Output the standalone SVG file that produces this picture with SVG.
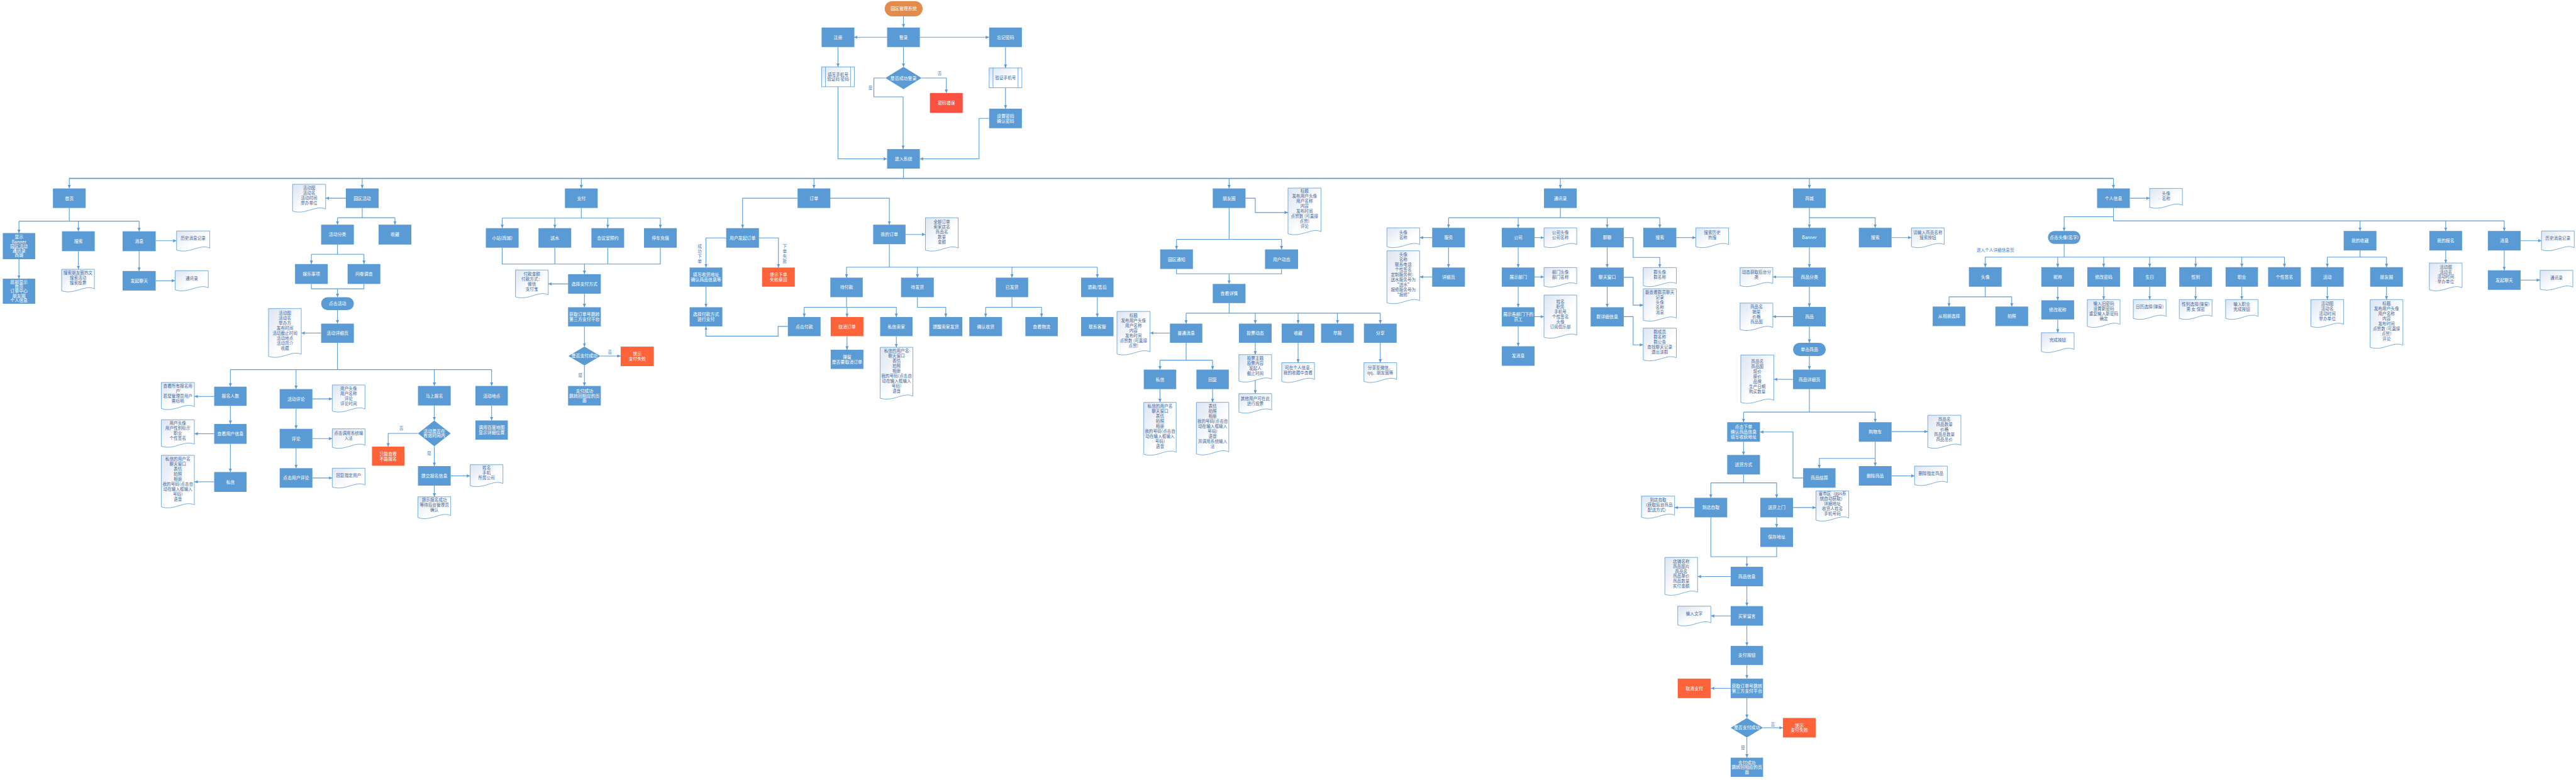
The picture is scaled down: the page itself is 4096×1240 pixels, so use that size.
<svg xmlns="http://www.w3.org/2000/svg" width="4096" height="1240" viewBox="0 0 4096 1240">
<style>
.n{fill:#5B9BD5}
.r{fill:#FF633A}
.e{fill:#F95040}
.o{fill:#E38B4B}
.d{fill:url(#dg);stroke:#5B9BD5;stroke-width:1.5}
.p{fill:url(#dg);stroke:#5B9BD5;stroke-width:1.5}
.t{font-family:'Noto Sans CJK SC',sans-serif;font-size:12.5px;fill:#fff;text-anchor:middle}
.dt{font-family:'Noto Sans CJK SC',sans-serif;font-size:12px;fill:#44679F;text-anchor:middle}
.lb{font-family:'Noto Sans CJK SC',sans-serif;font-size:12px;fill:#4A7AB8;text-anchor:middle}
.c{fill:none;stroke:#5B9BD5;stroke-width:2}
.b{fill:none;stroke:#5B9BD5;stroke-width:3}
.a{marker-end:url(#ar)}
</style>
<defs>
<linearGradient id="dg" x1="0" y1="0" x2="1" y2="1"><stop offset="0" stop-color="#dce5f2"/><stop offset="0.6" stop-color="#ffffff"/></linearGradient>
<marker id="ar" markerUnits="userSpaceOnUse" markerWidth="10" markerHeight="9" refX="10" refY="4.5" orient="auto"><path d="M0,0L10,4.5L0,9z" fill="#5B9BD5"/></marker>
</defs>
<rect width="4096" height="1240" fill="#fff"/>
<g transform="scale(0.55381)">
<g id="connectors">
<path class="c a" d="M2594,47V79"/>
<path class="c a" d="M2547,107H2452"/>
<path class="c a" d="M2641,107H2840"/>
<path class="c a" d="M2594,135V192"/>
<path class="c a" d="M2406,135V192"/>
<path class="c a" d="M2887,135V195"/>
<path class="c a" d="M2887,252V312"/>
<path class="c a" d="M2646,224H2717V267"/>
<path class="c a" d="M2542,224H2509V278H2593V428"/>
<path class="c a" d="M2406,249V456H2547"/>
<path class="c a" d="M2840,340H2811V456H2641"/>
<path class="c" d="M2594,484V512"/>
<path class="b" d="M198,512H6068"/>
<path class="c a" d="M199,512V541"/>
<path class="c a" d="M1040,512V541"/>
<path class="c a" d="M1669,512V541"/>
<path class="c a" d="M2337,512V541"/>
<path class="c a" d="M3529,512V541"/>
<path class="c a" d="M4480,512V541"/>
<path class="c a" d="M5195,512V541"/>
<path class="c a" d="M6068,512V541"/>
<path class="c" d="M199,597V635M54.5,635H399.5"/>
<path class="c a" d="M54.5,635V669"/>
<path class="c a" d="M225,635V664"/>
<path class="c a" d="M399.5,635V664"/>
<path class="c a" d="M54.5,744V800"/>
<path class="c a" d="M225,721V773"/>
<path class="c a" d="M447,691H507"/>
<path class="c a" d="M399.5,721V778"/>
<path class="c a" d="M447,806H503"/>
<path class="c a" d="M993,569H935"/>
<path class="c" d="M1040,597V625M969,625H1134"/>
<path class="c a" d="M969,625V645"/>
<path class="c a" d="M1134,625V645"/>
<path class="c" d="M969,702V730M894,730H1045"/>
<path class="c a" d="M894,730V758"/>
<path class="c a" d="M1045,730V758"/>
<path class="c" d="M894,815V829H1045V815"/>
<path class="c a" d="M969,829V853"/>
<path class="c a" d="M969,890V929"/>
<path class="c a" d="M922,956H865"/>
<path class="c" d="M969,984V1061M661.5,1061H1411.5"/>
<path class="c a" d="M661.5,1061V1110"/>
<path class="c a" d="M850,1061V1117"/>
<path class="c a" d="M1247,1061V1108"/>
<path class="c a" d="M1411.5,1061V1108"/>
<path class="c a" d="M615,1138H558"/>
<path class="c a" d="M661.5,1165V1217"/>
<path class="c a" d="M615,1245H558"/>
<path class="c a" d="M661.5,1274V1355"/>
<path class="c a" d="M615,1383H558"/>
<path class="c a" d="M897,1145H954"/>
<path class="c a" d="M850,1173V1231"/>
<path class="c a" d="M897,1259H954"/>
<path class="c a" d="M850,1287V1344"/>
<path class="c a" d="M897,1372H954"/>
<path class="c a" d="M1247,1164V1207"/>
<path class="c a" d="M1200,1244H1114.5V1282"/>
<path class="c a" d="M1247,1281V1338"/>
<path class="c a" d="M1294,1366H1350"/>
<path class="c a" d="M1247,1394V1426"/>
<path class="c a" d="M1411.5,1164V1207"/>
<path class="c" d="M1669,597V626M1442,626H1896"/>
<path class="c a" d="M1442,626V655"/>
<path class="c a" d="M1593,626V655"/>
<path class="c a" d="M1745,626V655"/>
<path class="c a" d="M1896,626V655"/>
<path class="c" d="M1442,711V758H1896V711M1593,711V758M1745,711V758"/>
<path class="c a" d="M1678,758V787"/>
<path class="c a" d="M1631,815H1574"/>
<path class="c a" d="M1678,843V882"/>
<path class="c a" d="M1678,937V995"/>
<path class="c a" d="M1724,1022H1782"/>
<path class="c a" d="M1678,1049V1108"/>
<path class="c a" d="M2290,569H2132V655"/>
<path class="c a" d="M2383,569H2553.5V645"/>
<path class="c a" d="M2085,683H2027V768"/>
<path class="c a" d="M2179,683H2235V768"/>
<path class="c a" d="M2027,823V882"/>
<path class="c a" d="M2262,937H2234V965H2027V937"/>
<path class="c a" d="M2600,673H2657"/>
<path class="c" d="M2553.5,701V767M2430.5,767H3150.5"/>
<path class="c a" d="M2430.5,767V797"/>
<path class="c a" d="M2634,767V797"/>
<path class="c a" d="M2905.5,767V797"/>
<path class="c a" d="M3150.5,767V797"/>
<path class="c" d="M2430.5,853V882M2309,882H2573.5"/>
<path class="c a" d="M2309,882V910"/>
<path class="c a" d="M2432,882V910"/>
<path class="c a" d="M2573.5,882V910"/>
<path class="c a" d="M2432,965V1004"/>
<path class="c a" d="M2573.5,965V997"/>
<path class="c a" d="M2634,853V882H2715.5V910"/>
<path class="c" d="M2905.5,853V882M2830,882H2990.5"/>
<path class="c a" d="M2830,882V910"/>
<path class="c a" d="M2990.5,882V910"/>
<path class="c a" d="M3150.5,853V910"/>
<path class="c a" d="M3576,569H3604V610H3698"/>
<path class="c" d="M3529,597V687M3378,687H3679.5"/>
<path class="c a" d="M3378,687V716"/>
<path class="c a" d="M3679.5,687V716"/>
<path class="c" d="M3378,772V786H3679.5V772"/>
<path class="c a" d="M3529,786V815"/>
<path class="c" d="M3529,870V899M3405.5,899H3963"/>
<path class="c a" d="M3405.5,899V929"/>
<path class="c a" d="M3604,899V929"/>
<path class="c a" d="M3727,899V929"/>
<path class="c a" d="M3840,899V929"/>
<path class="c a" d="M3963,899V929"/>
<path class="c a" d="M3359,956H3302"/>
<path class="c" d="M3405.5,984V1034M3330.5,1034H3481.5"/>
<path class="c a" d="M3330.5,1034V1061"/>
<path class="c a" d="M3481.5,1034V1061"/>
<path class="c a" d="M3330.5,1117V1155"/>
<path class="c a" d="M3481.5,1117V1155"/>
<path class="c a" d="M3604,984V1018"/>
<path class="c a" d="M3604,1088V1130"/>
<path class="c a" d="M3727,984V1041"/>
<path class="c a" d="M3963,984V1041"/>
<path class="c" d="M4480,597V625M4159,625H4765.5"/>
<path class="c a" d="M4159,625V654"/>
<path class="c a" d="M4359,625V654"/>
<path class="c a" d="M4614.5,625V654"/>
<path class="c a" d="M4765.5,625V654"/>
<path class="c a" d="M4112,682H4076"/>
<path class="c a" d="M4159,710V768"/>
<path class="c a" d="M4112,795H4076"/>
<path class="c a" d="M4406,682H4433"/>
<path class="c a" d="M4359,710V768"/>
<path class="c a" d="M4406,795H4433"/>
<path class="c a" d="M4359,823V882"/>
<path class="c a" d="M4406,909H4433"/>
<path class="c a" d="M4359,937V994"/>
<path class="c a" d="M4614.5,710V768"/>
<path class="c a" d="M4614.5,823V882"/>
<path class="c a" d="M4662,682H4689V739H4765.5V768"/>
<path class="c a" d="M4662,796H4689V876H4718"/>
<path class="c a" d="M4662,909H4689V990H4718"/>
<path class="c a" d="M4813,682H4869"/>
<path class="c a" d="M5195,597V654"/>
<path class="c a" d="M5195,625H5384V654"/>
<path class="c a" d="M5431,682H5488"/>
<path class="c a" d="M5195,710V768"/>
<path class="c a" d="M5148,795H5090"/>
<path class="c a" d="M5195,823V881"/>
<path class="c a" d="M5148,909H5090"/>
<path class="c a" d="M5195,937V984"/>
<path class="c a" d="M5195,1022V1061"/>
<path class="c a" d="M5148,1089H5093"/>
<path class="c" d="M5195,1117V1183M5006,1183H5384"/>
<path class="c a" d="M5006,1183V1212"/>
<path class="c a" d="M5384,1183V1212"/>
<path class="c a" d="M5431,1239H5535"/>
<path class="c a" d="M5384,1268V1338"/>
<path class="c a" d="M5384,1316H5223.5V1344"/>
<path class="c a" d="M5431,1366H5497"/>
<path class="c a" d="M5177,1372H5148V1240H5053"/>
<path class="c a" d="M5006,1268V1306"/>
<path class="c" d="M5006,1362V1386M4912,1386H5101"/>
<path class="c a" d="M4912,1386V1429"/>
<path class="c a" d="M5101,1386V1429"/>
<path class="c a" d="M4865,1457H4808"/>
<path class="c a" d="M5148,1457H5214"/>
<path class="c a" d="M5101,1485V1514"/>
<path class="c" d="M4912,1485V1598H5101V1570"/>
<path class="c a" d="M5015.5,1598V1627"/>
<path class="c a" d="M4969,1655H4874"/>
<path class="c a" d="M5015.5,1683V1740"/>
<path class="c a" d="M4969,1768H4912"/>
<path class="c a" d="M5015.5,1796V1854"/>
<path class="c a" d="M5015.5,1909V1948"/>
<path class="c a" d="M4969,1976H4912"/>
<path class="c a" d="M5015.5,2004V2061"/>
<path class="c a" d="M5062,2089H5119"/>
<path class="c a" d="M5015.5,2117V2175"/>
<path class="c a" d="M6115,569H6172"/>
<path class="c" d="M6068,597V634H7190"/>
<path class="c a" d="M6068,622H5926.5V663"/>
<path class="c a" d="M6776,634V663"/>
<path class="c a" d="M7022,634V663"/>
<path class="c a" d="M7190,634V663"/>
<path class="c a" d="M7237,691H7297"/>
<path class="c a" d="M7190,719V776"/>
<path class="c a" d="M7237,804H7293"/>
<path class="c" d="M6776,719V738M6682,738H6852"/>
<path class="c a" d="M6682,738V767"/>
<path class="c a" d="M6852,738V767"/>
<path class="c a" d="M6682,823V860"/>
<path class="c a" d="M6852,823V860"/>
<path class="c a" d="M7022,719V755"/>
<path class="c" d="M5926.5,700V738M5700,738H6559"/>
<path class="c a" d="M5700,738V767"/>
<path class="c a" d="M5908,738V767"/>
<path class="c a" d="M6040,738V767"/>
<path class="c a" d="M6172,738V767"/>
<path class="c a" d="M6304,738V767"/>
<path class="c a" d="M6436.5,738V767"/>
<path class="c a" d="M6559,738V767"/>
<path class="c" d="M5700,823V852M5596,852H5776"/>
<path class="c a" d="M5596,852V880"/>
<path class="c a" d="M5776,852V880"/>
<path class="c a" d="M5908,823V862"/>
<path class="c a" d="M5908,917V955"/>
<path class="c a" d="M6040,823V860"/>
<path class="c a" d="M6172,823V860"/>
<path class="c a" d="M6304,823V860"/>
<path class="c a" d="M6436.5,823V860"/>
<text class="lb" x="2698" y="214">否</text>
<text class="lb" x="2499" y="256">是</text>
<text class="lb" x="1152" y="1234">否</text>
<text class="lb" x="1232" y="1306">是</text>
<text class="lb" x="1751" y="1014">否</text>
<text class="lb" x="1666" y="1082">是</text>
<text class="lb" x="5090" y="2084">否</text>
<text class="lb" x="5004" y="2150">是</text>
<text class="lb" x="2009" y="712"><tspan x="2009">成</tspan><tspan x="2009" dy="14">功</tspan><tspan x="2009" dy="14">下</tspan><tspan x="2009" dy="14">单</tspan></text>
<text class="lb" x="2253" y="712"><tspan x="2253">下</tspan><tspan x="2253" dy="14">单</tspan><tspan x="2253" dy="14">失</tspan><tspan x="2253" dy="14">败</tspan></text>
<text class="lb" x="5729" y="722">进入个人详细信息页</text>
</g>

<g id="top">
<g id="start"><rect class="o" x="2540" y="3" width="109" height="44" rx="22"/><text class="t" x="2594.5" y="29.5">园区管理系统</text></g>
<g id="login"><rect class="n" x="2547" y="79" width="94" height="56"/><text class="t" x="2594" y="111.5">登录</text></g>
<g id="register"><rect class="n" x="2359" y="79" width="94" height="56"/><text class="t" x="2406" y="111.5">注册</text></g>
<g id="forgot"><rect class="n" x="2840" y="79" width="94" height="56"/><text class="t" x="2887" y="111.5">忘记密码</text></g>
<g id="fill-phone"><rect class="p" x="2359" y="192" width="94" height="57"/><path class="c" style="stroke-width:1.5" d="M2370,192V249M2442,192V249"/><text class="dt" x="2406" y="218"><tspan x="2406">填写手机号</tspan><tspan x="2406" dy="14">验证码 密码</tspan></text></g>
<g id="login-ok"><polygon class="n" points="2594,192 2646,224 2594,256 2542,224"/><text class="t" x="2594" y="228.5">是否成功登录</text></g>
<g id="pwd-err"><rect class="e" x="2670" y="267" width="94" height="57"/><text class="t" x="2717" y="300">密码错误</text></g>
<g id="verify-phone"><rect class="p" x="2840" y="195" width="94" height="57"/><path class="c" style="stroke-width:1.5" d="M2851,195V252M2923,195V252"/><text class="dt" x="2887" y="228">验证手机号</text></g>
<g id="set-pwd"><rect class="n" x="2840" y="312" width="94" height="56"/><text class="t" x="2887" y="337.5"><tspan x="2887">设置密码</tspan><tspan x="2887" dy="14">确认密码</tspan></text></g>
<g id="enter"><rect class="n" x="2547" y="428" width="94" height="56"/><text class="t" x="2594" y="460.5">进入系统</text></g>
</g>

<g id="home-tree">
<g id="home"><rect class="n" x="152" y="541" width="94" height="56"/><text class="t" x="199" y="573.5">首页</text></g>
<g id="home-show"><rect class="n" x="8" y="669" width="93" height="75"/><text class="t" x="54.5" y="685"><tspan x="54.5">显示</tspan><tspan x="54.5" dy="13">Banner</tspan><tspan x="54.5" dy="13">园区活动</tspan><tspan x="54.5" dy="13">通讯录</tspan><tspan x="54.5" dy="13">商城</tspan></text></g>
<g id="home-bottom"><rect class="n" x="8" y="800" width="93" height="72"/><text class="t" x="54.5" y="814.5"><tspan x="54.5">底部显示</tspan><tspan x="54.5" dy="13">首页</tspan><tspan x="54.5" dy="13">订单中心</tspan><tspan x="54.5" dy="13">朋友圈</tspan><tspan x="54.5" dy="13">个人信息</tspan></text></g>
<g id="home-search"><rect class="n" x="178" y="664" width="94" height="57"/><text class="t" x="225" y="697">搜索</text></g>
<g id="home-search-doc"><path class="d" d="M177,773h94v56c-28,-13 -56,18 -94,6z"/><text class="dt" x="224" y="787.9"><tspan x="224">搜索朋友圈热文</tspan><tspan x="224" dy="14.4">搜索活动</tspan><tspan x="224" dy="14.4">搜索投票</tspan></text></g>
<g id="home-msg"><rect class="n" x="352" y="664" width="95" height="57"/><text class="t" x="399.5" y="697">消息</text></g>
<g id="home-hist"><path class="d" d="M507,663h95v49c-28,-13 -57,18 -95,6z"/><text class="dt" x="554.5" y="688.8">历史消息记录</text></g>
<g id="home-chat"><rect class="n" x="352" y="778" width="95" height="56"/><text class="t" x="399.5" y="810.5">发起聊天</text></g>
<g id="home-contacts"><path class="d" d="M503,777h95v49c-28,-13 -57,18 -95,6z"/><text class="dt" x="550.5" y="802.8">通讯录</text></g>
</g>

<g id="activity-tree">
<g id="act"><rect class="n" x="993" y="541" width="94" height="56"/><text class="t" x="1040" y="573.5">园区活动</text></g>
<g id="act-doc"><path class="d" d="M840,529h95v71c-28,-13 -57,18 -95,6z"/><text class="dt" x="887.5" y="544.2"><tspan x="887.5">活动图</tspan><tspan x="887.5" dy="14.4">活动名</tspan><tspan x="887.5" dy="14.4">活动时间</tspan><tspan x="887.5" dy="14.4">举办单位</tspan></text></g>
<g id="act-cat"><rect class="n" x="922" y="645" width="94" height="57"/><text class="t" x="969" y="678">活动分类</text></g>
<g id="act-fav"><rect class="n" x="1087" y="645" width="94" height="57"/><text class="t" x="1134" y="678">收藏</text></g>
<g id="act-fun"><rect class="n" x="847" y="758" width="94" height="57"/><text class="t" x="894" y="791">娱乐事项</text></g>
<g id="act-survey"><rect class="n" x="998" y="758" width="94" height="57"/><text class="t" x="1045" y="791">问卷调查</text></g>
<g id="act-click"><rect class="n" x="922" y="853" width="94" height="37" rx="18.5"/><text class="t" x="969" y="876">点击活动</text></g>
<g id="act-detail"><rect class="n" x="922" y="929" width="94" height="55"/><text class="t" x="969" y="961">活动详细页</text></g>
<g id="act-detail-doc"><path class="d" d="M771,886h94v131c-28,-13 -56,18 -94,6z"/><text class="dt" x="818" y="902.4"><tspan x="818">活动图</tspan><tspan x="818" dy="14.4">活动名</tspan><tspan x="818" dy="14.4">举办方</tspan><tspan x="818" dy="14.4">发布时间</tspan><tspan x="818" dy="14.4">活动截止时间</tspan><tspan x="818" dy="14.4">活动地点</tspan><tspan x="818" dy="14.4">活动简介</tspan><tspan x="818" dy="14.4">收藏</tspan></text></g>
<g id="act-count"><rect class="n" x="615" y="1110" width="93" height="55"/><text class="t" x="661.5" y="1142">报名人数</text></g>
<g id="act-count-doc"><path class="d" d="M463,1098h95v69c-28,-13 -57,18 -95,6z"/><text class="dt" x="510.5" y="1112.2"><tspan x="510.5">查看所有报名用</tspan><tspan x="510.5" dy="14.4">户</tspan><tspan x="510.5" dy="14.4">若是管理员用户</tspan><tspan x="510.5" dy="14.4">需标明</tspan></text></g>
<g id="act-user"><rect class="n" x="615" y="1217" width="93" height="57"/><text class="t" x="661.5" y="1250">查看用户信息</text></g>
<g id="act-user-doc"><path class="d" d="M463,1205h95v70c-28,-13 -57,18 -95,6z"/><text class="dt" x="510.5" y="1219.7"><tspan x="510.5">用户头像</tspan><tspan x="510.5" dy="14.4">用户性别标示</tspan><tspan x="510.5" dy="14.4">职业</tspan><tspan x="510.5" dy="14.4">个性签名</tspan></text></g>
<g id="act-pm"><rect class="n" x="615" y="1355" width="93" height="57"/><text class="t" x="661.5" y="1388">私信</text></g>
<g id="act-pm-doc"><path class="d" d="M463,1307h95v142c-28,-13 -57,18 -95,6z"/><text class="dt" x="510.5" y="1321.7"><tspan x="510.5">私信的用户名</tspan><tspan x="510.5" dy="14.4">聊天窗口</tspan><tspan x="510.5" dy="14.4">表情</tspan><tspan x="510.5" dy="14.4">拍照</tspan><tspan x="510.5" dy="14.4">相册</tspan><tspan x="510.5" dy="14.4">我的号码(点击自</tspan><tspan x="510.5" dy="14.4">动在输入框输入</tspan><tspan x="510.5" dy="14.4">号码)</tspan><tspan x="510.5" dy="14.4">语音</tspan></text></g>
<g id="act-comments"><rect class="n" x="803" y="1117" width="94" height="56"/><text class="t" x="850" y="1149.5">活动评论</text></g>
<g id="act-comments-doc"><path class="d" d="M954,1105h94v69c-28,-13 -56,18 -94,6z"/><text class="dt" x="1001" y="1119.2"><tspan x="1001">用户头像</tspan><tspan x="1001" dy="14.4">用户名称</tspan><tspan x="1001" dy="14.4">评论</tspan><tspan x="1001" dy="14.4">评论时间</tspan></text></g>
<g id="act-comment"><rect class="n" x="803" y="1231" width="94" height="56"/><text class="t" x="850" y="1263.5">评论</text></g>
<g id="act-comment-doc"><path class="d" d="M954,1231h94v47c-28,-13 -56,18 -94,6z"/><text class="dt" x="1001" y="1248.6"><tspan x="1001">点击调用系统输</tspan><tspan x="1001" dy="14.4">入法</tspan></text></g>
<g id="act-reply"><rect class="n" x="803" y="1344" width="94" height="56"/><text class="t" x="850" y="1376.5">点击用户评论</text></g>
<g id="act-reply-doc"><path class="d" d="M954,1344h94v48c-28,-13 -56,18 -94,6z"/><text class="dt" x="1001" y="1369.3">回复指定用户</text></g>
<g id="act-signup"><rect class="n" x="1200" y="1108" width="94" height="56"/><text class="t" x="1247" y="1140.5">马上报名</text></g>
<g id="act-valid"><polygon class="n" points="1247,1207 1294,1244 1247,1281 1200,1244"/><text class="t" x="1247" y="1241.5"><tspan x="1247">活动是否在</tspan><tspan x="1247" dy="14">有效时间内</tspan></text></g>
<g id="act-viewonly"><rect class="r" x="1068" y="1282" width="93" height="55"/><text class="t" x="1114.5" y="1307"><tspan x="1114.5">只能查看</tspan><tspan x="1114.5" dy="14">不能报名</tspan></text></g>
<g id="act-submit"><rect class="n" x="1200" y="1338" width="94" height="56"/><text class="t" x="1247" y="1370.5">提交报名信息</text></g>
<g id="act-submit-doc"><path class="d" d="M1350,1334h94v54c-28,-13 -56,18 -94,6z"/><text class="dt" x="1397" y="1347.9"><tspan x="1397">姓名</tspan><tspan x="1397" dy="14.4">手机</tspan><tspan x="1397" dy="14.4">所属公司</tspan></text></g>
<g id="act-success-doc"><path class="d" d="M1200,1426h94v54c-28,-13 -56,18 -94,6z"/><text class="dt" x="1247" y="1439.9"><tspan x="1247">提示报名成功</tspan><tspan x="1247" dy="14.4">等待后台管理员</tspan><tspan x="1247" dy="14.4">确认</tspan></text></g>
<g id="act-place"><rect class="n" x="1365" y="1108" width="93" height="56"/><text class="t" x="1411.5" y="1140.5">活动地点</text></g>
<g id="act-map"><rect class="n" x="1365" y="1207" width="93" height="55"/><text class="t" x="1411.5" y="1232"><tspan x="1411.5">调用百度地图</tspan><tspan x="1411.5" dy="14">显示详细位置</tspan></text></g>
</g>

<g id="pay-tree">
<g id="pay"><rect class="n" x="1622" y="541" width="94" height="56"/><text class="t" x="1669" y="573.5">支付</text></g>
<g id="pay-shop"><rect class="n" x="1395" y="655" width="94" height="56"/><text class="t" x="1442" y="687.5">小站(商城)</text></g>
<g id="pay-water"><rect class="n" x="1546" y="655" width="94" height="56"/><text class="t" x="1593" y="687.5">送水</text></g>
<g id="pay-room"><rect class="n" x="1698" y="655" width="94" height="56"/><text class="t" x="1745" y="687.5">会议室预约</text></g>
<g id="pay-park"><rect class="n" x="1849" y="655" width="94" height="56"/><text class="t" x="1896" y="687.5">停车充值</text></g>
<g id="pay-method"><rect class="n" x="1631" y="787" width="94" height="56"/><text class="t" x="1678" y="819.5">选择支付方式</text></g>
<g id="pay-method-doc"><path class="d" d="M1480,775h94v71c-28,-13 -56,18 -94,6z"/><text class="dt" x="1527" y="790.2"><tspan x="1527">付款金额</tspan><tspan x="1527" dy="14.4">付款方式：</tspan><tspan x="1527" dy="14.4">微信</tspan><tspan x="1527" dy="14.4">支付宝</tspan></text></g>
<g id="pay-third"><rect class="n" x="1631" y="882" width="94" height="55"/><text class="t" x="1678" y="907"><tspan x="1678">获取订单号跳转</tspan><tspan x="1678" dy="14">第三方支付平台</tspan></text></g>
<g id="pay-ok"><polygon class="n" points="1678,995 1724,1022 1678,1049 1632,1022"/><text class="t" x="1678" y="1026.5">是否支付成功</text></g>
<g id="pay-fail"><rect class="r" x="1782" y="995" width="95" height="56"/><text class="t" x="1829.5" y="1020.5"><tspan x="1829.5">提示</tspan><tspan x="1829.5" dy="14">支付失败</tspan></text></g>
<g id="pay-done"><rect class="n" x="1631" y="1108" width="94" height="56"/><text class="t" x="1678" y="1126.5"><tspan x="1678">支付成功</tspan><tspan x="1678" dy="14">跳转回相应的页</tspan><tspan x="1678" dy="14">面</tspan></text></g>
</g>

<g id="order-tree">
<g id="order"><rect class="n" x="2290" y="541" width="94" height="56"/><text class="t" x="2337" y="573.5">订单</text></g>
<g id="order-new"><rect class="n" x="2085" y="655" width="94" height="56"/><text class="t" x="2132" y="687.5">用户发起订单</text></g>
<g id="order-fill"><rect class="n" x="1980" y="768" width="94" height="55"/><text class="t" x="2027" y="793"><tspan x="2027">填写收货地址</tspan><tspan x="2027" dy="14">确认商品信息等</tspan></text></g>
<g id="order-fail"><rect class="r" x="2188" y="768" width="94" height="55"/><text class="t" x="2235" y="793"><tspan x="2235">提示下单</tspan><tspan x="2235" dy="14">失败原因</tspan></text></g>
<g id="order-pay"><rect class="n" x="1980" y="882" width="94" height="55"/><text class="t" x="2027" y="907"><tspan x="2027">选择付款方式</tspan><tspan x="2027" dy="14">进行支付</tspan></text></g>
<g id="order-mine"><rect class="n" x="2507" y="645" width="93" height="56"/><text class="t" x="2553.5" y="677.5">我的订单</text></g>
<g id="order-mine-doc"><path class="d" d="M2657,625h94v87c-28,-13 -56,18 -94,6z"/><text class="dt" x="2704" y="641"><tspan x="2704">全部订单</tspan><tspan x="2704" dy="14.4">卖家店名</tspan><tspan x="2704" dy="14.4">商品名</tspan><tspan x="2704" dy="14.4">数量</tspan><tspan x="2704" dy="14.4">金额</tspan></text></g>
<g id="order-unpaid"><rect class="n" x="2384" y="797" width="93" height="56"/><text class="t" x="2430.5" y="829.5">待付款</text></g>
<g id="order-unsent"><rect class="n" x="2587" y="797" width="94" height="56"/><text class="t" x="2634" y="829.5">待发货</text></g>
<g id="order-sent"><rect class="n" x="2859" y="797" width="93" height="56"/><text class="t" x="2905.5" y="829.5">已发货</text></g>
<g id="order-refund"><rect class="n" x="3104" y="797" width="93" height="56"/><text class="t" x="3150.5" y="829.5">退款/售后</text></g>
<g id="order-click-pay"><rect class="n" x="2262" y="910" width="94" height="55"/><text class="t" x="2309" y="942">点击付款</text></g>
<g id="order-cancel"><rect class="r" x="2385" y="910" width="94" height="55"/><text class="t" x="2432" y="942">取消订单</text></g>
<g id="order-pm"><rect class="n" x="2527" y="910" width="93" height="55"/><text class="t" x="2573.5" y="942">私信卖家</text></g>
<g id="order-popup"><rect class="n" x="2385" y="1004" width="94" height="55"/><text class="t" x="2432" y="1029"><tspan x="2432">弹窗</tspan><tspan x="2432" dy="14">是否要取消订单</tspan></text></g>
<g id="order-pm-doc"><path class="d" d="M2527,997h94v140c-28,-13 -56,18 -94,6z"/><text class="dt" x="2574" y="1010.7"><tspan x="2574">私信的用户名</tspan><tspan x="2574" dy="14.4">聊天窗口</tspan><tspan x="2574" dy="14.4">表情</tspan><tspan x="2574" dy="14.4">拍照</tspan><tspan x="2574" dy="14.4">相册</tspan><tspan x="2574" dy="14.4">我的号码(点击自</tspan><tspan x="2574" dy="14.4">动在输入框输入</tspan><tspan x="2574" dy="14.4">号码)</tspan><tspan x="2574" dy="14.4">语音</tspan></text></g>
<g id="order-remind"><rect class="n" x="2668" y="910" width="95" height="55"/><text class="t" x="2715.5" y="942">提醒卖家发货</text></g>
<g id="order-confirm"><rect class="n" x="2783" y="910" width="94" height="55"/><text class="t" x="2830" y="942">确认收货</text></g>
<g id="order-track"><rect class="n" x="2944" y="910" width="93" height="55"/><text class="t" x="2990.5" y="942">查看物流</text></g>
<g id="order-service"><rect class="n" x="3104" y="910" width="93" height="55"/><text class="t" x="3150.5" y="942">联系客服</text></g>
</g>

<g id="moments-tree">
<g id="moments"><rect class="n" x="3482" y="541" width="94" height="56"/><text class="t" x="3529" y="573.5">朋友圈</text></g>
<g id="moments-doc"><path class="d" d="M3698,540h95v125c-28,-13 -57,18 -95,6z"/><text class="dt" x="3745.5" y="553.4"><tspan x="3745.5">标题</tspan><tspan x="3745.5" dy="14.4">发布用户头像</tspan><tspan x="3745.5" dy="14.4">用户名称</tspan><tspan x="3745.5" dy="14.4">内容</tspan><tspan x="3745.5" dy="14.4">发布时间</tspan><tspan x="3745.5" dy="14.4">点赞数 (可直接</tspan><tspan x="3745.5" dy="14.4">点赞)</tspan><tspan x="3745.5" dy="14.4">评论</tspan></text></g>
<g id="m-notice"><rect class="n" x="3331" y="716" width="94" height="56"/><text class="t" x="3378" y="748.5">园区通知</text></g>
<g id="m-user"><rect class="n" x="3632" y="716" width="95" height="56"/><text class="t" x="3679.5" y="748.5">用户动态</text></g>
<g id="m-detail"><rect class="n" x="3482" y="815" width="94" height="55"/><text class="t" x="3529" y="847">查看详情</text></g>
<g id="m-normal"><rect class="n" x="3359" y="929" width="93" height="55"/><text class="t" x="3405.5" y="961">普通消息</text></g>
<g id="m-normal-doc"><path class="d" d="M3207,894h95v116c-28,-13 -57,18 -95,6z"/><text class="dt" x="3254.5" y="910.1"><tspan x="3254.5">标题</tspan><tspan x="3254.5" dy="14.4">发布用户头像</tspan><tspan x="3254.5" dy="14.4">用户名称</tspan><tspan x="3254.5" dy="14.4">内容</tspan><tspan x="3254.5" dy="14.4">发布时间</tspan><tspan x="3254.5" dy="14.4">点赞数 (可直接</tspan><tspan x="3254.5" dy="14.4">点赞)</tspan></text></g>
<g id="m-vote"><rect class="n" x="3557" y="929" width="94" height="55"/><text class="t" x="3604" y="961">投票动态</text></g>
<g id="m-fav"><rect class="n" x="3680" y="929" width="94" height="55"/><text class="t" x="3727" y="961">收藏</text></g>
<g id="m-report"><rect class="n" x="3793" y="929" width="94" height="55"/><text class="t" x="3840" y="961">举报</text></g>
<g id="m-share"><rect class="n" x="3916" y="929" width="94" height="55"/><text class="t" x="3963" y="961">分享</text></g>
<g id="m-pm"><rect class="n" x="3284" y="1061" width="93" height="56"/><text class="t" x="3330.5" y="1093.5">私信</text></g>
<g id="m-reply"><rect class="n" x="3435" y="1061" width="93" height="56"/><text class="t" x="3481.5" y="1093.5">回复</text></g>
<g id="m-pm-doc"><path class="d" d="M3284,1155h93v143c-28,-13 -56,18 -93,6z"/><text class="dt" x="3330.5" y="1170.2"><tspan x="3330.5">私信的用户名</tspan><tspan x="3330.5" dy="14.4">聊天窗口</tspan><tspan x="3330.5" dy="14.4">表情</tspan><tspan x="3330.5" dy="14.4">拍照</tspan><tspan x="3330.5" dy="14.4">相册</tspan><tspan x="3330.5" dy="14.4">我的号码(点击自</tspan><tspan x="3330.5" dy="14.4">动在输入框输入</tspan><tspan x="3330.5" dy="14.4">号码)</tspan><tspan x="3330.5" dy="14.4">语音</tspan></text></g>
<g id="m-reply-doc"><path class="d" d="M3435,1155h93v142c-28,-13 -56,18 -93,6z"/><text class="dt" x="3481.5" y="1169.7"><tspan x="3481.5">表情</tspan><tspan x="3481.5" dy="14.4">拍照</tspan><tspan x="3481.5" dy="14.4">相册</tspan><tspan x="3481.5" dy="14.4">我的号码(点击自</tspan><tspan x="3481.5" dy="14.4">动在输入框输入</tspan><tspan x="3481.5" dy="14.4">号码)</tspan><tspan x="3481.5" dy="14.4">语音</tspan><tspan x="3481.5" dy="14.4">并调用系统输入</tspan><tspan x="3481.5" dy="14.4">法</tspan></text></g>
<g id="m-vote-doc"><path class="d" d="M3557,1018h94v70c-28,-13 -56,18 -94,6z"/><text class="dt" x="3604" y="1032.7"><tspan x="3604">投票主题</tspan><tspan x="3604" dy="14.4">投票内容</tspan><tspan x="3604" dy="14.4">发起人</tspan><tspan x="3604" dy="14.4">截止时间</tspan></text></g>
<g id="m-vote-doc2"><path class="d" d="M3557,1130h94v47c-28,-13 -56,18 -94,6z"/><text class="dt" x="3604" y="1147.6"><tspan x="3604">其他用户可在此</tspan><tspan x="3604" dy="14.4">进行投票</tspan></text></g>
<g id="m-fav-doc"><path class="d" d="M3680,1041h94v48c-28,-13 -56,18 -94,6z"/><text class="dt" x="3727" y="1059.1"><tspan x="3727">可在个人信息-</tspan><tspan x="3727" dy="14.4">我的收藏中查看</tspan></text></g>
<g id="m-share-doc"><path class="d" d="M3916,1041h94v48c-28,-13 -56,18 -94,6z"/><text class="dt" x="3963" y="1059.1"><tspan x="3963">分享至微信、</tspan><tspan x="3963" dy="14.4">qq、朋友圈等</tspan></text></g>
</g>

<g id="contacts-tree">
<g id="contacts"><rect class="n" x="4433" y="541" width="94" height="56"/><text class="t" x="4480" y="573.5">通讯录</text></g>
<g id="c-service"><rect class="n" x="4112" y="654" width="94" height="56"/><text class="t" x="4159" y="686.5">服务</text></g>
<g id="c-service-doc"><path class="d" d="M3982,654h94v48c-28,-13 -56,18 -94,6z"/><text class="dt" x="4029" y="672.1"><tspan x="4029">头像</tspan><tspan x="4029" dy="14.4">名称</tspan></text></g>
<g id="c-detail"><rect class="n" x="4112" y="768" width="94" height="55"/><text class="t" x="4159" y="800">详细页</text></g>
<g id="c-detail-doc"><path class="d" d="M3982,720h94v143c-28,-13 -56,18 -94,6z"/><text class="dt" x="4029" y="735.2"><tspan x="4029">头像</tspan><tspan x="4029" dy="14.4">名称</tspan><tspan x="4029" dy="14.4">联系电话</tspan><tspan x="4029" dy="14.4">个性签名</tspan><tspan x="4029" dy="14.4">定制服务例：</tspan><tspan x="4029" dy="14.4">送水服务号为</tspan><tspan x="4029" dy="14.4">“送水”</tspan><tspan x="4029" dy="14.4">报修服务号为</tspan><tspan x="4029" dy="14.4">“报修”</tspan></text></g>
<g id="c-company"><rect class="n" x="4312" y="654" width="94" height="56"/><text class="t" x="4359" y="686.5">公司</text></g>
<g id="c-company-doc"><path class="d" d="M4433,654h94v48c-28,-13 -56,18 -94,6z"/><text class="dt" x="4480" y="672.1"><tspan x="4480">公司头像</tspan><tspan x="4480" dy="14.4">公司名称</tspan></text></g>
<g id="c-dept"><rect class="n" x="4312" y="768" width="94" height="55"/><text class="t" x="4359" y="800">展示部门</text></g>
<g id="c-dept-doc"><path class="d" d="M4433,768h94v47c-28,-13 -56,18 -94,6z"/><text class="dt" x="4480" y="785.6"><tspan x="4480">部门头像</tspan><tspan x="4480" dy="14.4">部门名称</tspan></text></g>
<g id="c-staff"><rect class="n" x="4312" y="882" width="94" height="55"/><text class="t" x="4359" y="907"><tspan x="4359">展示各部门下的</tspan><tspan x="4359" dy="14">员工</tspan></text></g>
<g id="c-staff-doc"><path class="d" d="M4433,847h94v115c-28,-13 -56,18 -94,6z"/><text class="dt" x="4480" y="869.8"><tspan x="4480">姓名</tspan><tspan x="4480" dy="14.4">职务</tspan><tspan x="4480" dy="14.4">手机号</tspan><tspan x="4480" dy="14.4">个性签名</tspan><tspan x="4480" dy="14.4">头像</tspan><tspan x="4480" dy="14.4">订阅俱乐部</tspan></text></g>
<g id="c-send"><rect class="n" x="4312" y="994" width="94" height="56"/><text class="t" x="4359" y="1026.5">发消息</text></g>
<g id="c-group"><rect class="n" x="4567" y="654" width="95" height="56"/><text class="t" x="4614.5" y="686.5">群聊</text></g>
<g id="c-chat"><rect class="n" x="4567" y="768" width="95" height="55"/><text class="t" x="4614.5" y="800">聊天窗口</text></g>
<g id="c-ginfo"><rect class="n" x="4567" y="882" width="95" height="55"/><text class="t" x="4614.5" y="914">群详细信息</text></g>
<g id="c-group-doc"><path class="d" d="M4718,768h95v46c-28,-13 -57,18 -95,6z"/><text class="dt" x="4765.5" y="785.1"><tspan x="4765.5">群头像</tspan><tspan x="4765.5" dy="14.4">群名称</tspan></text></g>
<g id="c-chat-doc"><path class="d" d="M4718,829h95v84c-28,-13 -57,18 -95,6z"/><text class="dt" x="4765.5" y="843.5"><tspan x="4765.5">能查看群员聊天</tspan><tspan x="4765.5" dy="14.4">记录</tspan><tspan x="4765.5" dy="14.4">头像</tspan><tspan x="4765.5" dy="14.4">名称</tspan><tspan x="4765.5" dy="14.4">消息</tspan></text></g>
<g id="c-ginfo-doc"><path class="d" d="M4718,942h95v85c-28,-13 -57,18 -95,6z"/><text class="dt" x="4765.5" y="957"><tspan x="4765.5">群成员</tspan><tspan x="4765.5" dy="14.4">群名称</tspan><tspan x="4765.5" dy="14.4">群公告</tspan><tspan x="4765.5" dy="14.4">查找聊天记录</tspan><tspan x="4765.5" dy="14.4">退出该群</tspan></text></g>
<g id="c-search"><rect class="n" x="4718" y="654" width="95" height="56"/><text class="t" x="4765.5" y="686.5">搜索</text></g>
<g id="c-search-doc"><path class="d" d="M4869,654h94v48c-28,-13 -56,18 -94,6z"/><text class="dt" x="4916" y="672.1"><tspan x="4916">搜索历史</tspan><tspan x="4916" dy="14.4">热搜</tspan></text></g>
</g>

<g id="mall-tree">
<g id="mall"><rect class="n" x="5148" y="541" width="94" height="56"/><text class="t" x="5195" y="573.5">商城</text></g>
<g id="s-banner"><rect class="n" x="5148" y="654" width="94" height="56"/><text class="t" x="5195" y="686.5">Banner</text></g>
<g id="s-search"><rect class="n" x="5337" y="654" width="94" height="56"/><text class="t" x="5384" y="686.5">搜索</text></g>
<g id="s-search-doc"><path class="d" d="M5488,654h94v48c-28,-13 -56,18 -94,6z"/><text class="dt" x="5535" y="672.1"><tspan x="5535">请输入商品名称</tspan><tspan x="5535" dy="14.4">搜索按钮</tspan></text></g>
<g id="s-cat"><rect class="n" x="5148" y="768" width="94" height="55"/><text class="t" x="5195" y="800">商品分类</text></g>
<g id="s-cat-doc"><path class="d" d="M4996,768h94v46c-28,-13 -56,18 -94,6z"/><text class="dt" x="5043" y="785.1"><tspan x="5043">动态获取后台分</tspan><tspan x="5043" dy="14.4">类</tspan></text></g>
<g id="s-goods"><rect class="n" x="5148" y="881" width="94" height="56"/><text class="t" x="5195" y="913.5">商品</text></g>
<g id="s-goods-doc"><path class="d" d="M4996,870h94v70c-28,-13 -56,18 -94,6z"/><text class="dt" x="5043" y="884.7"><tspan x="5043">商品名</tspan><tspan x="5043" dy="14.4">销量</tspan><tspan x="5043" dy="14.4">价格</tspan><tspan x="5043" dy="14.4">商品图</tspan></text></g>
<g id="s-click"><rect class="n" x="5148" y="984" width="94" height="38" rx="19"/><text class="t" x="5195" y="1007.5">单击商品</text></g>
<g id="s-detail"><rect class="n" x="5148" y="1061" width="94" height="56"/><text class="t" x="5195" y="1093.5">商品详细页</text></g>
<g id="s-detail-doc"><path class="d" d="M4998,1019h95v130c-28,-13 -57,18 -95,6z"/><text class="dt" x="5045.5" y="1042.1"><tspan x="5045.5">商品名</tspan><tspan x="5045.5" dy="14.4">商品图</tspan><tspan x="5045.5" dy="14.4">现价</tspan><tspan x="5045.5" dy="14.4">原价</tspan><tspan x="5045.5" dy="14.4">品牌</tspan><tspan x="5045.5" dy="14.4">生产日期</tspan><tspan x="5045.5" dy="14.4">购买数量</tspan></text></g>
<g id="s-order"><rect class="n" x="4959" y="1212" width="94" height="56"/><text class="t" x="5006" y="1230.5"><tspan x="5006">点击下单</tspan><tspan x="5006" dy="14">确认商品信息</tspan><tspan x="5006" dy="14">填写收获地址</tspan></text></g>
<g id="s-cart"><rect class="n" x="5337" y="1212" width="94" height="56"/><text class="t" x="5384" y="1244.5">购物车</text></g>
<g id="s-cart-doc"><path class="d" d="M5535,1192h95v86c-28,-13 -57,18 -95,6z"/><text class="dt" x="5582.5" y="1207.5"><tspan x="5582.5">商品名</tspan><tspan x="5582.5" dy="14.4">商品数量</tspan><tspan x="5582.5" dy="14.4">价格</tspan><tspan x="5582.5" dy="14.4">商品总数量</tspan><tspan x="5582.5" dy="14.4">商品总价</tspan></text></g>
<g id="s-delete"><rect class="n" x="5337" y="1338" width="94" height="56"/><text class="t" x="5384" y="1370.5">删除商品</text></g>
<g id="s-delete-doc"><path class="d" d="M5497,1338h94v47c-28,-13 -56,18 -94,6z"/><text class="dt" x="5544" y="1362.8">删除指定商品</text></g>
<g id="s-settle"><rect class="n" x="5177" y="1344" width="93" height="56"/><text class="t" x="5223.5" y="1376.5">商品结算</text></g>
<g id="s-ship"><rect class="n" x="4959" y="1306" width="94" height="56"/><text class="t" x="5006" y="1338.5">送货方式</text></g>
<g id="s-pickup"><rect class="n" x="4865" y="1429" width="94" height="56"/><text class="t" x="4912" y="1461.5">到店自取</text></g>
<g id="s-deliver"><rect class="n" x="5054" y="1429" width="94" height="56"/><text class="t" x="5101" y="1461.5">送货上门</text></g>
<g id="s-pickup-doc"><path class="d" d="M4713,1424h95v55c-28,-13 -57,18 -95,6z"/><text class="dt" x="4760.5" y="1438.4"><tspan x="4760.5">到店自取</tspan><tspan x="4760.5" dy="14.4">（获取后台商品</tspan><tspan x="4760.5" dy="14.4">配送方式）</tspan></text></g>
<g id="s-deliver-doc"><path class="d" d="M5214,1409h94v78c-28,-13 -56,18 -94,6z"/><text class="dt" x="5261" y="1420.5"><tspan x="5261">省市区（gps系</tspan><tspan x="5261" dy="14.4">统自动获取）</tspan><tspan x="5261" dy="14.4">详细地址</tspan><tspan x="5261" dy="14.4">收货人姓名</tspan><tspan x="5261" dy="14.4">手机号码</tspan></text></g>
<g id="s-save"><rect class="n" x="5054" y="1514" width="94" height="56"/><text class="t" x="5101" y="1546.5">保存地址</text></g>
<g id="s-info"><rect class="n" x="4969" y="1627" width="93" height="56"/><text class="t" x="5015.5" y="1659.5">商品信息</text></g>
<g id="s-info-doc"><path class="d" d="M4780,1600h94v100c-28,-13 -56,18 -94,6z"/><text class="dt" x="4827" y="1615.3"><tspan x="4827">店铺名称</tspan><tspan x="4827" dy="14.4">商品图片</tspan><tspan x="4827" dy="14.4">商品名</tspan><tspan x="4827" dy="14.4">商品单价</tspan><tspan x="4827" dy="14.4">商品数量</tspan><tspan x="4827" dy="14.4">实付金额</tspan></text></g>
<g id="s-note"><rect class="n" x="4969" y="1740" width="93" height="56"/><text class="t" x="5015.5" y="1772.5">买家留言</text></g>
<g id="s-note-doc"><path class="d" d="M4817,1740h95v48c-28,-13 -57,18 -95,6z"/><text class="dt" x="4864.5" y="1765.3">输入文字</text></g>
<g id="s-paybtn"><rect class="n" x="4969" y="1854" width="93" height="55"/><text class="t" x="5015.5" y="1886">支付按钮</text></g>
<g id="s-third"><rect class="n" x="4969" y="1948" width="93" height="56"/><text class="t" x="5015.5" y="1973.5"><tspan x="5015.5">获取订单号跳转</tspan><tspan x="5015.5" dy="14">第三方支付平台</tspan></text></g>
<g id="s-cancel"><rect class="r" x="4817" y="1948" width="95" height="56"/><text class="t" x="4864.5" y="1980.5">取消支付</text></g>
<g id="s-ok"><polygon class="n" points="5015.5,2061 5062,2089 5015.5,2117 4969,2089"/><text class="t" x="5015.5" y="2093.5">是否支付成功</text></g>
<g id="s-fail"><rect class="r" x="5119" y="2061" width="94" height="56"/><text class="t" x="5166" y="2086.5"><tspan x="5166">提示</tspan><tspan x="5166" dy="14">支付失败</tspan></text></g>
<g id="s-done"><rect class="n" x="4969" y="2175" width="93" height="55"/><text class="t" x="5015.5" y="2193"><tspan x="5015.5">支付成功</tspan><tspan x="5015.5" dy="14">跳转回相应的页</tspan><tspan x="5015.5" dy="14">面</tspan></text></g>
</g>

<g id="profile-tree">
<g id="profile"><rect class="n" x="6021" y="541" width="94" height="56"/><text class="t" x="6068" y="573.5">个人信息</text></g>
<g id="p-doc"><path class="d" d="M6172,541h94v48c-28,-13 -56,18 -94,6z"/><text class="dt" x="6219" y="559.1"><tspan x="6219">头像</tspan><tspan x="6219" dy="14.4">名称</tspan></text></g>
<g id="p-click"><rect class="n" x="5880" y="663" width="93" height="37" rx="18.5"/><text class="t" x="5926.5" y="686">点击头像(名字)</text></g>
<g id="p-avatar"><rect class="n" x="5653" y="767" width="94" height="56"/><text class="t" x="5700" y="799.5">头像</text></g>
<g id="p-nick"><rect class="n" x="5861" y="767" width="94" height="56"/><text class="t" x="5908" y="799.5">昵称</text></g>
<g id="p-pwd"><rect class="n" x="5993" y="767" width="94" height="56"/><text class="t" x="6040" y="799.5">修改密码</text></g>
<g id="p-bday"><rect class="n" x="6125" y="767" width="94" height="56"/><text class="t" x="6172" y="799.5">生日</text></g>
<g id="p-sex"><rect class="n" x="6257" y="767" width="94" height="56"/><text class="t" x="6304" y="799.5">性别</text></g>
<g id="p-job"><rect class="n" x="6390" y="767" width="93" height="56"/><text class="t" x="6436.5" y="799.5">职业</text></g>
<g id="p-sign"><rect class="n" x="6512" y="767" width="94" height="56"/><text class="t" x="6559" y="799.5">个性签名</text></g>
<g id="p-album"><rect class="n" x="5549" y="880" width="94" height="56"/><text class="t" x="5596" y="912.5">从相册选择</text></g>
<g id="p-photo"><rect class="n" x="5729" y="880" width="94" height="56"/><text class="t" x="5776" y="912.5">拍照</text></g>
<g id="p-nick-edit"><rect class="n" x="5861" y="862" width="94" height="55"/><text class="t" x="5908" y="894">修改昵称</text></g>
<g id="p-nick-doc"><path class="d" d="M5861,955h94v48c-28,-13 -56,18 -94,6z"/><text class="dt" x="5908" y="980.3">完成按钮</text></g>
<g id="p-pwd-doc"><path class="d" d="M5993,860h94v71c-28,-13 -56,18 -94,6z"/><text class="dt" x="6040" y="875.2"><tspan x="6040">输入旧密码</tspan><tspan x="6040" dy="14.4">设置新密码</tspan><tspan x="6040" dy="14.4">重复输入新密码</tspan><tspan x="6040" dy="14.4">确定</tspan></text></g>
<g id="p-bday-doc"><path class="d" d="M6125,860h94v48c-28,-13 -56,18 -94,6z"/><text class="dt" x="6172" y="885.3">日历选择(弹窗)</text></g>
<g id="p-sex-doc"><path class="d" d="M6257,860h94v48c-28,-13 -56,18 -94,6z"/><text class="dt" x="6304" y="878.1"><tspan x="6304">性别选择(弹窗)</tspan><tspan x="6304" dy="14.4">男 女 保密</tspan></text></g>
<g id="p-job-doc"><path class="d" d="M6390,860h93v48c-28,-13 -56,18 -93,6z"/><text class="dt" x="6436.5" y="878.1"><tspan x="6436.5">输入职业</tspan><tspan x="6436.5" dy="14.4">完成按钮</tspan></text></g>
<g id="p-fav"><rect class="n" x="6729" y="663" width="94" height="56"/><text class="t" x="6776" y="695.5">我的收藏</text></g>
<g id="p-signup"><rect class="n" x="6975" y="663" width="94" height="56"/><text class="t" x="7022" y="695.5">我的报名</text></g>
<g id="p-msg"><rect class="n" x="7143" y="663" width="94" height="56"/><text class="t" x="7190" y="695.5">消息</text></g>
<g id="p-hist"><path class="d" d="M7297,663h94v48c-28,-13 -56,18 -94,6z"/><text class="dt" x="7344" y="688.3">历史消息记录</text></g>
<g id="p-chat"><rect class="n" x="7143" y="776" width="94" height="56"/><text class="t" x="7190" y="808.5">发起聊天</text></g>
<g id="p-contacts"><path class="d" d="M7293,776h94v48c-28,-13 -56,18 -94,6z"/><text class="dt" x="7340" y="801.3">通讯录</text></g>
<g id="p-fav-act"><rect class="n" x="6635" y="767" width="94" height="56"/><text class="t" x="6682" y="799.5">活动</text></g>
<g id="p-fav-moments"><rect class="n" x="6805" y="767" width="94" height="56"/><text class="t" x="6852" y="799.5">朋友圈</text></g>
<g id="p-fav-act-doc"><path class="d" d="M6635,860h94v71c-28,-13 -56,18 -94,6z"/><text class="dt" x="6682" y="875.2"><tspan x="6682">活动图</tspan><tspan x="6682" dy="14.4">活动名</tspan><tspan x="6682" dy="14.4">活动时间</tspan><tspan x="6682" dy="14.4">举办单位</tspan></text></g>
<g id="p-fav-moments-doc"><path class="d" d="M6805,860h94v131c-28,-13 -56,18 -94,6z"/><text class="dt" x="6852" y="876.4"><tspan x="6852">标题</tspan><tspan x="6852" dy="14.4">发布用户头像</tspan><tspan x="6852" dy="14.4">用户名称</tspan><tspan x="6852" dy="14.4">内容</tspan><tspan x="6852" dy="14.4">发布时间</tspan><tspan x="6852" dy="14.4">点赞数 (可直接</tspan><tspan x="6852" dy="14.4">点赞)</tspan><tspan x="6852" dy="14.4">评论</tspan></text></g>
<g id="p-signup-doc"><path class="d" d="M6975,755h94v71c-28,-13 -56,18 -94,6z"/><text class="dt" x="7022" y="770.2"><tspan x="7022">活动图</tspan><tspan x="7022" dy="14.4">活动名</tspan><tspan x="7022" dy="14.4">活动时间</tspan><tspan x="7022" dy="14.4">举办单位</tspan></text></g>
</g>
</g>
</svg>
